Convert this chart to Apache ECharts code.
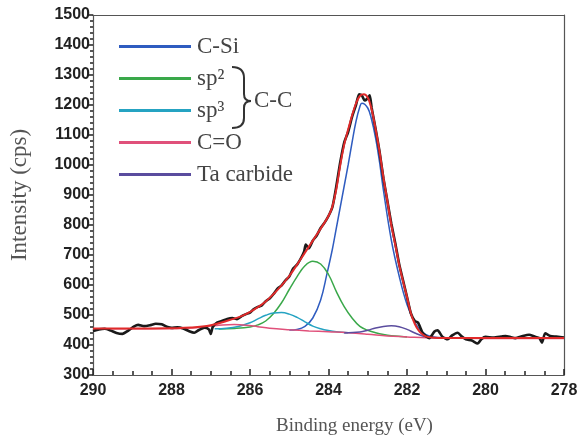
<!DOCTYPE html>
<html>
<head>
<meta charset="utf-8">
<script src="https://cdn.jsdelivr.net/npm/echarts@6/dist/echarts.min.js"></script>
<style>
  html, body { margin: 0; padding: 0; background: #fff; }
</style>
</head>
<body>
<div id="main" style="width:586px;height:441px;"></div>
<script>
    // measured spectrum (black)
    var rawEnergy = [290.0, 289.85, 289.7, 289.55, 289.4, 289.25, 289.1, 288.95, 288.85, 288.7, 288.55, 288.4, 288.25, 288.1, 288.0,
        287.85, 287.7, 287.55, 287.42, 287.3, 287.16, 287.05, 287.0, 286.95, 286.84, 286.72, 286.58, 286.45, 286.33, 286.2, 286.1,
        286.0, 285.9, 285.8, 285.7, 285.6, 285.5, 285.4, 285.3, 285.2, 285.1, 285.0, 284.9, 284.8, 284.7, 284.62, 284.58, 284.5,
        284.4, 284.3, 284.2, 284.1, 284.0, 283.9, 283.8, 283.7, 283.6, 283.5, 283.4, 283.3, 283.22, 283.15, 283.08, 283.02, 282.95,
        282.9, 282.8, 282.7, 282.6, 282.5, 282.4, 282.3, 282.2, 282.1, 282.0, 281.9, 281.8, 281.72, 281.6, 281.5, 281.43, 281.3,
        281.22, 281.1, 280.96, 280.85, 280.71, 280.6, 280.5, 280.35, 280.2, 280.1, 280.0, 279.8, 279.6, 279.49, 279.35, 279.24,
        279.05, 278.89, 278.75, 278.63, 278.56, 278.48, 278.35, 278.2, 278.0];
    var rawCounts = [447, 452, 454, 448, 440, 437, 448, 462, 467, 463, 466, 471, 469, 460, 457,
        459, 455, 446, 441, 450, 458, 452, 437, 460, 475, 480, 487, 490, 486, 497, 503,
        508, 520, 527, 532, 546, 555, 570, 588, 598, 615, 628, 655, 668, 690, 712, 735, 722,
        748, 765, 790, 808, 830, 860, 930, 1010, 1075, 1110, 1160, 1200, 1236, 1232, 1215, 1220, 1232,
        1190, 1120, 1045, 955, 880, 805, 740, 670, 615, 560, 505, 480, 475, 440, 428, 423, 445,
        449, 428, 419, 432, 441, 428, 419, 415, 405, 420, 427, 425, 428, 430, 426, 423,
        430, 434, 428, 423, 408, 439, 430, 428, 425];

    // fit envelope (red)
    var fitEnergy = [290, 289, 288, 287.5, 287.0, 286.5, 286.2, 286.0, 285.8, 285.6, 285.4, 285.2, 285.0, 284.8, 284.6, 284.4,
        284.2, 284.0, 283.9, 283.8, 283.7, 283.6, 283.5, 283.4, 283.3, 283.2, 283.1, 283.0, 282.9, 282.8, 282.7, 282.6, 282.5,
        282.4, 282.3, 282.2, 282.1, 282.0, 281.9, 281.8, 281.7, 281.6, 281.5, 281.3, 281.0, 280, 279, 278];
    var fitCounts = [455, 455, 456, 458, 466, 484, 497, 510, 526, 545, 570, 598, 630, 668, 708, 748,
        788, 830, 862, 920, 1000, 1068, 1118, 1165, 1205, 1230, 1236, 1225, 1185, 1120, 1045, 958, 880,
        800, 735, 668, 612, 560, 505, 470, 448, 435, 428, 424, 423, 423, 423, 423];

    // components
    var csiE = [285.0, 284.8, 284.6, 284.4, 284.2, 284.04, 283.9, 283.8, 283.7, 283.6, 283.5, 283.4, 283.3, 283.2, 283.15,
        283.0, 282.9, 282.8, 282.7, 282.6, 282.4, 282.2, 282.0, 281.8, 281.6, 281.4, 281.0];
    var csiI = [450, 452, 462, 490, 550, 637, 720, 790, 860, 930, 1000, 1075, 1145, 1195, 1206,
        1190, 1150, 1090, 1010, 915, 750, 630, 535, 475, 442, 428, 424];

    var sp2E = [286.8, 286.4, 286.0, 285.8, 285.6, 285.4, 285.2, 285.0, 284.8, 284.6, 284.4, 284.2, 284.0, 283.8, 283.6,
        283.4, 283.2, 283.0, 282.8, 282.6, 282.4, 282.0];
    var sp2I = [453, 455, 460, 467, 480, 505, 540, 585, 628, 664, 679, 670, 635, 578, 528,
        490, 462, 449, 441, 435, 431, 427];

    var sp3E = [286.9, 286.6, 286.3, 286.0, 285.8, 285.6, 285.4, 285.2, 285.0, 284.8, 284.6, 284.4, 284.2, 284.0, 283.8, 283.5];
    var sp3I = [454, 456, 462, 474, 487, 499, 507, 508, 503, 492, 477, 463, 454, 448, 444, 441];

    var coE = [290, 288.0, 287.5, 287.2, 287.0, 286.7, 286.4, 286.1, 285.8, 285.5, 285.0, 284.5, 284.0, 283.5, 283.0, 282.5,
        282.0, 281.5, 280.0, 278.0];
    var coI = [454, 455, 457, 460, 463, 467, 468, 466, 461, 456, 451, 447, 444, 441, 436, 430,
        427, 424, 422, 422];

    var taE = [283.6, 283.2, 283.0, 282.8, 282.6, 282.4, 282.2, 282.0, 281.8, 281.6, 281.4, 281.0];
    var taI = [440, 443, 449, 457, 462, 464, 461, 452, 440, 430, 425, 423];

    var legendNames = ['C-Si', 'sp²', 'sp³', 'C=O', 'Ta carbide'];

    function pairs(xs, ys) {
        var out = [];
        for (var i = 0; i < xs.length; i++) {
            out.push([xs[i], ys[i]]);
        }
        return out;
    }

    function component(name, color, xs, ys) {
        return {
            name: name,
            type: 'line',
            color: color,
            data: pairs(xs, ys),
            symbol: 'none',
            smooth: 0.4,
            lineStyle: { width: 1.5, color: color },
            z: 2
        };
    }

    var serifFont = '"Liberation Serif", "DejaVu Serif", serif';
    var sansFont = '"Liberation Sans", Arial, sans-serif';
    var braceStyle = { fill: null, stroke: '#333', lineWidth: 2 };
    var frameLine = { show: true, onZero: false, lineStyle: { color: '#555', width: 1.2 } };
    var tickLine = { color: '#222', width: 1.5 };

    var myChart = echarts.init(document.getElementById('main'));

    var option = {
        animation: false,
        backgroundColor: '#fff',
        grid: {
            left: 88,
            right: 22,
            top: 15,
            bottom: 66
        },
        legend: {
            data: legendNames,
            orient: 'vertical',
            left: 114,
            top: 30,
            itemWidth: 72,
            itemHeight: 3,
            itemGap: 9,
            icon: 'rect',
            textStyle: {
                fontFamily: serifFont,
                fontSize: 23,
                color: '#444',
                padding: [0, 0, 0, 1]
            }
        },
        xAxis: [{
            type: 'value',
            position: 'bottom',
            min: 278,
            max: 290,
            interval: 2,
            inverse: true,
            name: 'Binding energy (eV)',
            nameLocation: 'middle',
            nameGap: 42,
            nameTextStyle: {
                fontFamily: serifFont,
                fontSize: 19,
                color: '#555',
                padding: [0, 0, 0, 52]
            },
            axisLine: frameLine,
            axisTick: { show: true, interval: 0, inside: true, length: 6, lineStyle: tickLine },
            minorTick: { show: true, splitNumber: 4, length: 4, lineStyle: tickLine },
            axisLabel: {
                fontFamily: sansFont,
                fontWeight: 'bold',
                fontSize: 16,
                color: '#222',
                margin: 8,
                formatter: function (v) { return String(v); }
            },
            splitLine: { show: false }
        }, {
            // top frame
            type: 'value',
            position: 'top',
            min: 278,
            max: 290,
            inverse: true,
            axisLine: frameLine,
            axisTick: { show: false },
            axisLabel: { show: false },
            splitLine: { show: false }
        }],
        yAxis: [{
            type: 'value',
            position: 'left',
            min: 300,
            max: 1500,
            interval: 100,
            name: 'Intensity (cps)',
            nameLocation: 'middle',
            nameGap: 62,
            nameTextStyle: {
                fontFamily: serifFont,
                fontSize: 23,
                color: '#555'
            },
            axisLine: frameLine,
            axisTick: { show: true, interval: 0, inside: false, length: 5, lineStyle: tickLine },
            minorTick: { show: true, splitNumber: 5, length: 3, lineStyle: tickLine },
            axisLabel: {
                fontFamily: sansFont,
                fontWeight: 'bold',
                fontSize: 16,
                color: '#222',
                margin: 3,
                formatter: function (v) { return String(v); }
            },
            splitLine: { show: false }
        }, {
            // right frame
            type: 'value',
            position: 'right',
            min: 300,
            max: 1500,
            axisLine: frameLine,
            axisTick: { show: false },
            axisLabel: { show: false },
            splitLine: { show: false }
        }],
        series: [
            component('C-Si', '#2f5cc0', csiE, csiI),
            component('sp²', '#3aa84a', sp2E, sp2I),
            component('sp³', '#25a3c2', sp3E, sp3I),
            component('C=O', '#e0507a', coE, coI),
            component('Ta carbide', '#5a4c9e', taE, taI),
            {
                name: 'data',
                type: 'line',
                data: pairs(rawEnergy, rawCounts),
                symbol: 'none',
                smooth: 0.2,
                color: '#1a1a1a',
                lineStyle: { width: 2.6, color: '#1a1a1a' },
                z: 3
            },
            {
                name: 'fit',
                type: 'line',
                data: pairs(fitEnergy, fitCounts),
                symbol: 'none',
                smooth: 0.4,
                color: '#e02a2a',
                lineStyle: { width: 2, color: '#e02a2a' },
                z: 4
            }
        ],
        graphic: [
            // brace grouping sp2 / sp3
            { type: 'bezierCurve', shape: { x1: 232, y1: 67, x2: 244, y2: 78, cpx1: 244, cpy1: 67 }, style: braceStyle },
            { type: 'line', shape: { x1: 244, y1: 78, x2: 244, y2: 94 }, style: braceStyle },
            { type: 'bezierCurve', shape: { x1: 244, y1: 94, x2: 251, y2: 101, cpx1: 244, cpy1: 101 }, style: braceStyle },
            { type: 'bezierCurve', shape: { x1: 251, y1: 101, x2: 244, y2: 108, cpx1: 244, cpy1: 101 }, style: braceStyle },
            { type: 'line', shape: { x1: 244, y1: 108, x2: 244, y2: 118 }, style: braceStyle },
            { type: 'bezierCurve', shape: { x1: 244, y1: 118, x2: 232, y2: 128, cpx1: 244, cpy1: 128 }, style: braceStyle },
            {
                type: 'text',
                left: 254,
                top: 89,
                style: {
                    text: 'C-C',
                    font: '23px ' + serifFont,
                    fill: '#444'
                }
            }
        ]
    };

    myChart.setOption(option);
</script>
</body>
</html>
